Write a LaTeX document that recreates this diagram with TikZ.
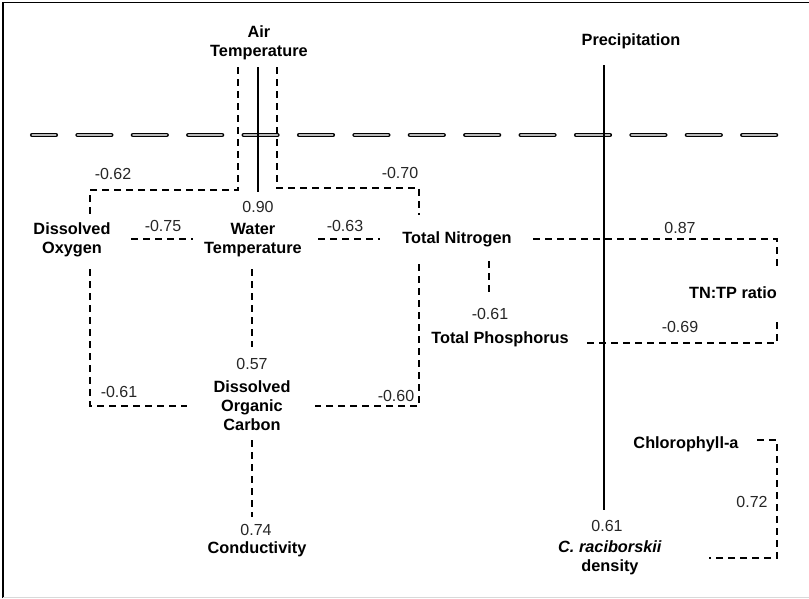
\documentclass[tikz,border=0pt]{standalone}
\usepackage{fontspec}
\setmainfont{Liberation Sans}
\begin{document}
\begin{tikzpicture}[x=1pt,y=-1pt,
  lbl/.style={font=\fontsize{16.3}{19}\selectfont\bfseries, align=center, inner sep=0pt, text=black},
  num/.style={font=\fontsize{16}{19}\selectfont, inner sep=0pt, text=black!85},
  dline/.style={line width=2pt, dash pattern=on 7pt off 5pt},
  sline/.style={line width=2pt},
  divider/.style={double=gray!55, line width=1.4pt, double distance=2pt, line cap=round,
    dash pattern=on 33.4pt off 22pt, dash phase=10pt}]
\useasboundingbox (0,0) rectangle (809,598);
\draw[line width=1.5pt] (3,598) -- (3,2.5) -- (809,2.5);
\draw[gray!30, line width=1pt] (3,597) -- (809,597);

% nodes
\node[lbl] (air) at (259,42.5) {Air\\Temperature};
\node[lbl] (precip) at (631,41) {Precipitation};
\node[lbl] (wt) at (253,240) {Water\\Temperature};
\node[lbl] (do) at (72,240) {Dissolved\\Oxygen};
\node[lbl] (tn) at (457,239) {Total Nitrogen};
\node[lbl] (tp) at (500,339) {Total Phosphorus};
\node[lbl] (ratio) at (733,293) {TN:TP ratio};
\node[lbl] (doc) at (252,406) {Dissolved\\Organic\\Carbon};
\node[lbl] (cond) at (257,549) {Conductivity};
\node[lbl] (chl) at (686,444) {Chlorophyll-a};
\node[lbl] (crd) at (610,557.5) {\textit{C. raciborskii}\\density};

% divider
\coordinate (dvA) at (32.3,135);
\coordinate (dvB) at (777,135);
\draw[divider] (dvA) -- (dvB);

% coordinates for connector ends
\coordinate (a1) at (258,67);   \coordinate (a2) at (258,192);
\coordinate (p1) at (604,65);   \coordinate (p2) at (604,510);
\coordinate (l1) at (238,67);   \coordinate (l2) at (238,190);
\coordinate (l3) at (90,190);   \coordinate (l4) at (90,214);
\coordinate (r1) at (277,67);   \coordinate (r2) at (277,188);
\coordinate (r3) at (419,188);  \coordinate (r4) at (419,215);
\coordinate (do1) at (131,239); \coordinate (do2) at (193,239);
\coordinate (tn1) at (318,239); \coordinate (tn2) at (380,239);
\coordinate (q1) at (533,239);  \coordinate (q2) at (777,239); \coordinate (q3) at (777,268);
\coordinate (s1) at (587,343);  \coordinate (s2) at (777,343); \coordinate (s3) at (777,320);
\coordinate (t1) at (489,261);  \coordinate (t2) at (489,296);
\coordinate (u1) at (419,264);  \coordinate (u2) at (419,406); \coordinate (u3) at (315,406);
\coordinate (v1) at (90,269);   \coordinate (v2) at (90,406);  \coordinate (v3) at (187,406);
\coordinate (w1) at (252,269);  \coordinate (w2) at (252,347);
\coordinate (c1) at (252,440);  \coordinate (c2) at (252,517);
\coordinate (h1) at (757,440);  \coordinate (h2) at (777,440); \coordinate (h3) at (777,558); \coordinate (h4) at (709,558);

% solid connectors
\draw[sline] (a1) -- (a2);
\draw[sline] (p1) -- (p2);

% dashed connectors
\draw[dline] (l1) -- (l2) -- (l3) -- (l4);
\draw[dline] (r1) -- (r2) -- (r3) -- (r4);
\draw[dline] (do1) -- (do2);
\draw[dline] (tn1) -- (tn2);
\draw[dline] (q1) -- (q2) -- (q3);
\draw[dline] (s1) -- (s2) -- (s3);
\draw[dline] (t1) -- (t2);
\draw[dline] (u1) -- (u2) -- (u3);
\draw[dline] (v1) -- (v2) -- (v3);
\draw[dline] (w1) -- (w2);
\draw[dline] (c1) -- (c2);
\draw[dline] (h1) -- (h2) -- (h3) -- (h4);

% coefficient labels
\node[num] (n1) at (113,174) {-0.62};
\node[num] (n2) at (400,173) {-0.70};
\node[num] (n3) at (258,207) {0.90};
\node[num] (n4) at (163,226) {-0.75};
\node[num] (n5) at (345,226) {-0.63};
\node[num] (n6) at (680,228) {0.87};
\node[num] (n7) at (490,314) {-0.61};
\node[num] (n8) at (680,327) {-0.69};
\node[num] (n9) at (252,364) {0.57};
\node[num] (n10) at (119,392) {-0.61};
\node[num] (n11) at (396,396) {-0.60};
\node[num] (n12) at (256,530) {0.74};
\node[num] (n13) at (607,526) {0.61};
\node[num] (n14) at (752,502) {0.72};
\end{tikzpicture}
\end{document}
